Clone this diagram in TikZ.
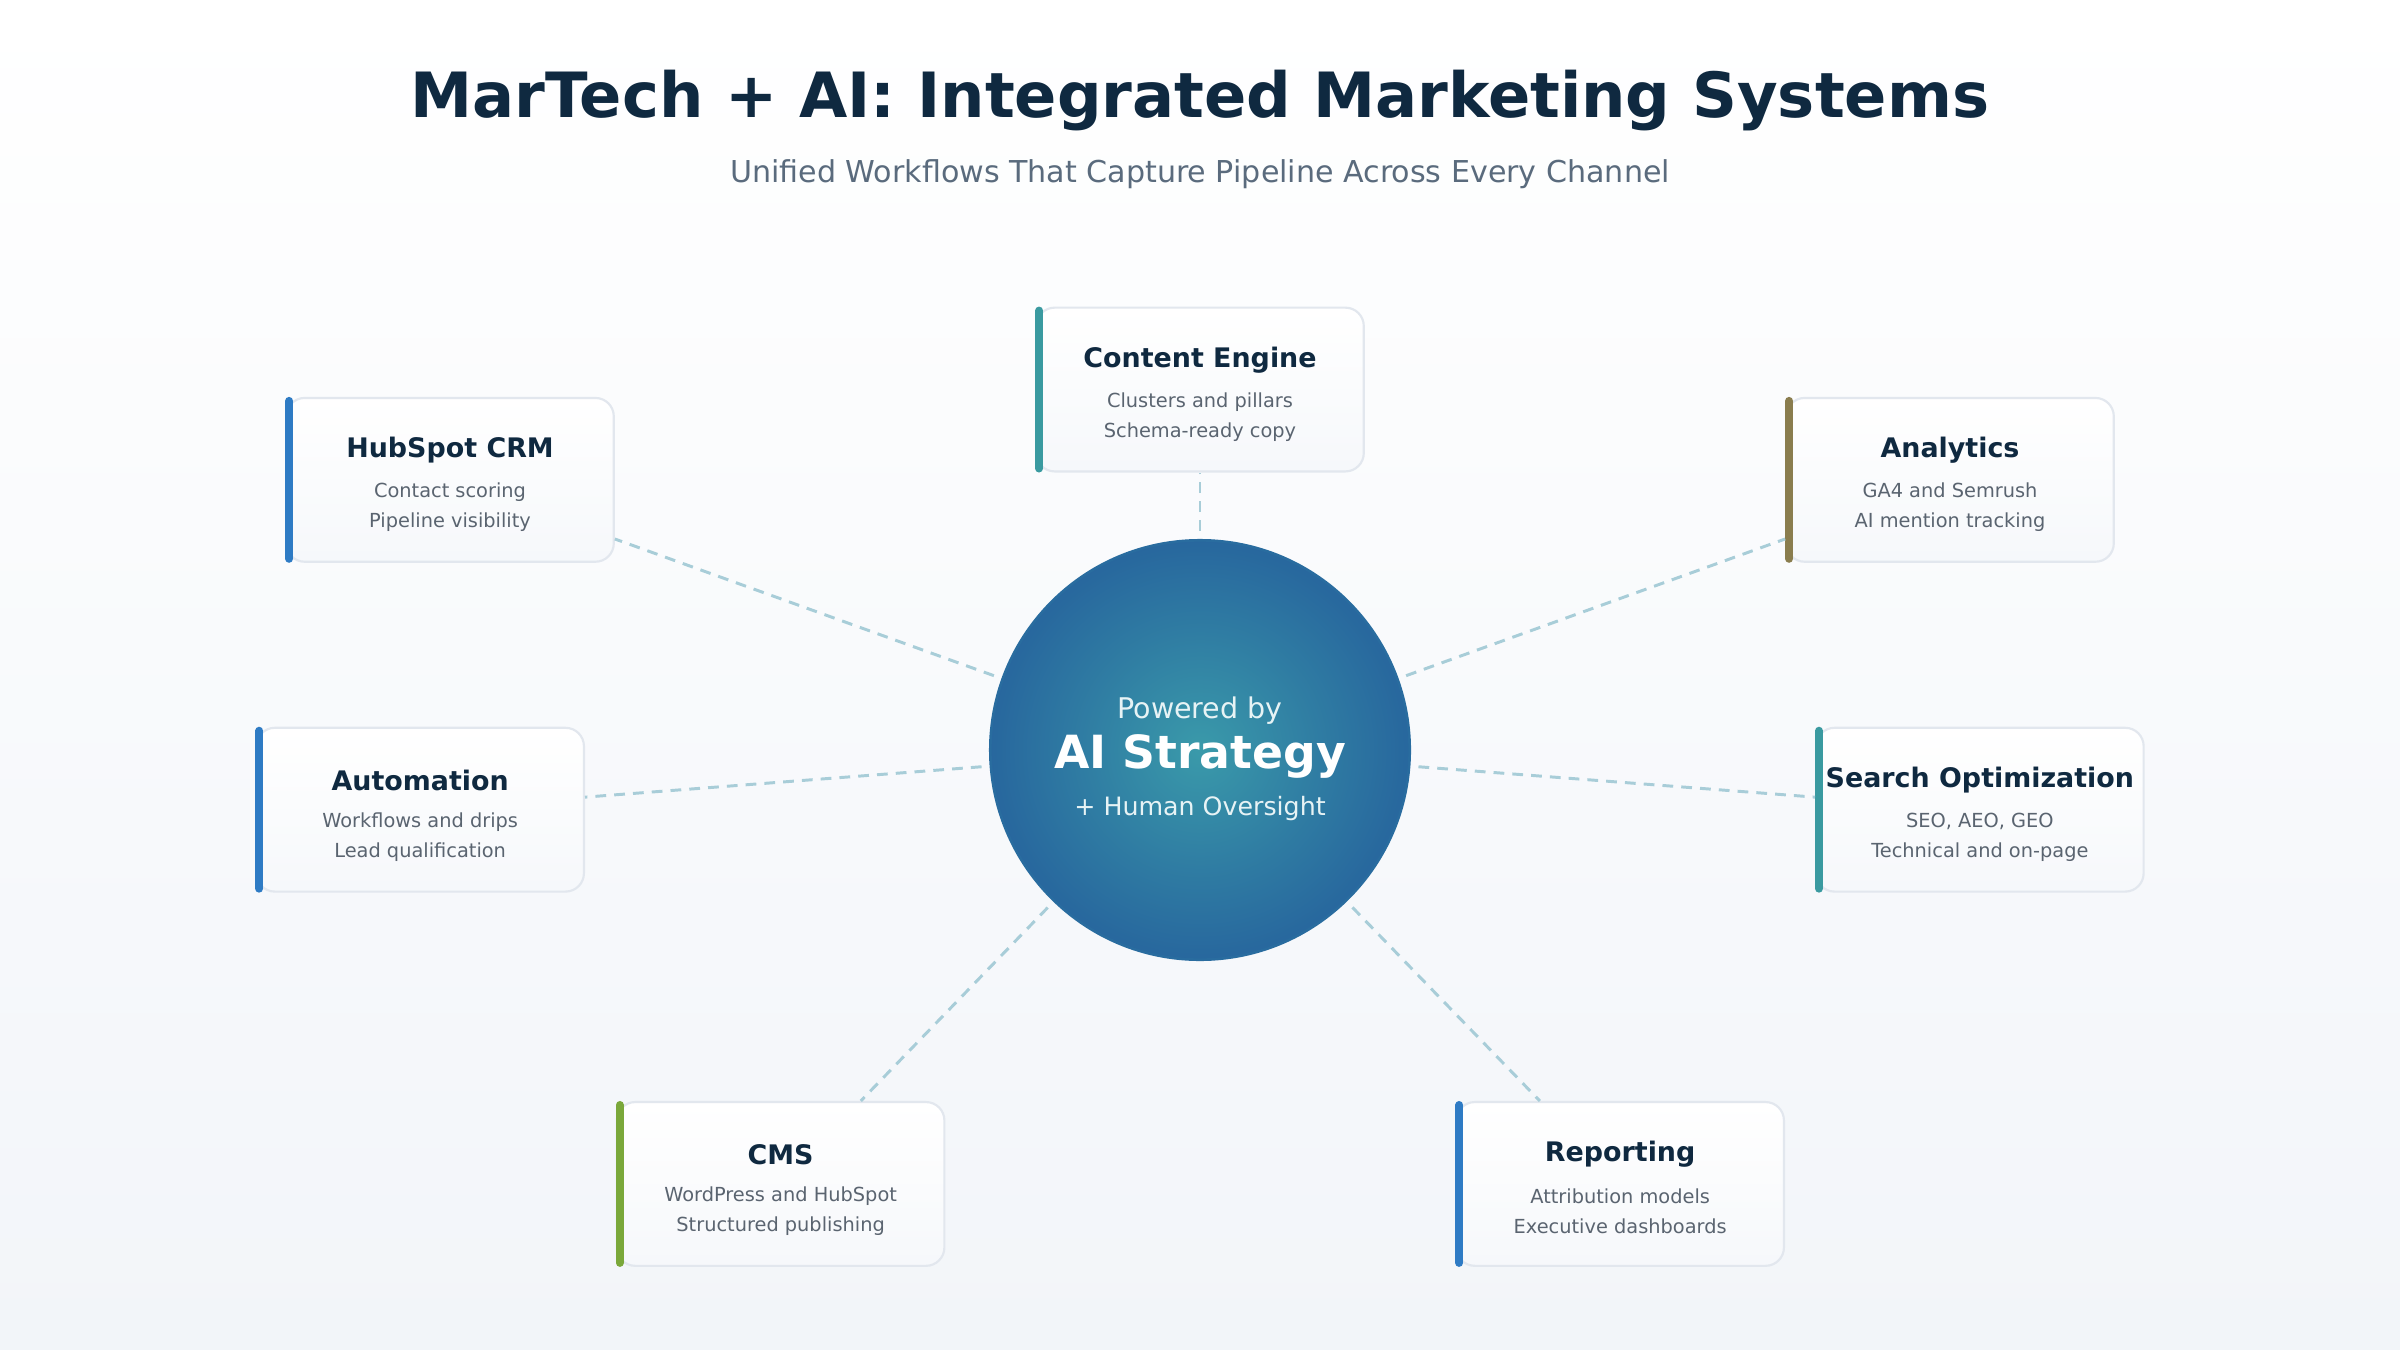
\documentclass[tikz,border=0pt]{standalone}
\usepackage{fontspec}
\setmainfont{DejaVu Sans}
\usetikzlibrary{shadings}
\definecolor{titlec}{HTML}{0F2940}
\definecolor{subc}{HTML}{5A6B7D}
\definecolor{bodyc}{HTML}{5A6470}
\definecolor{dashc}{HTML}{A8CDD8}
\definecolor{cardb}{HTML}{E2E7EE}
\definecolor{cblue}{HTML}{2E7BC4}
\definecolor{cteal}{HTML}{3A9AA0}
\definecolor{colive}{HTML}{8A7D4E}
\definecolor{cgreen}{HTML}{7AA83A}
\definecolor{cin}{HTML}{3A9AAA}
\definecolor{cout}{HTML}{22589A}
\definecolor{bgtop}{HTML}{FFFFFF}
\definecolor{bgbot}{HTML}{F2F5F9}
\pgfdeclareradialshading{hub}{\pgfpoint{0cm}{0cm}}{color(0cm)=(cin);color(0.5cm)=(cin!55!cout);color(1.15cm)=(cout)}
\tikzset{
 card/.style={rectangle,rounded corners=12pt*0.569,minimum width=214*0.02cm,minimum height=107*0.02cm,draw=cardb,line width=0.8pt,top color=white,bottom color=bgbot!70!white,inner sep=0pt},
 ctitle/.style={font=\fontsize{10}{12}\selectfont\bfseries,text=titlec},
 cbody/.style={font=\fontsize{7.2}{11.2}\selectfont,text=bodyc,align=center},
 conn/.style={draw=dashc,line width=1.1pt,dash pattern=on 4pt off 3pt}
}
\newcommand{\mycard}[7]{%
 \node[card] (#1) at (#2,#3) {};
 \draw[#4,line width=3pt,line cap=round] ([xshift=1.5pt,yshift=-1.5pt]#1.north west) -- ([xshift=1.5pt,yshift=1.5pt]#1.south west);
 \node[ctitle] (#1t) at ([yshift=-35*0.02cm]#1.north) {#5};
 \node[cbody] (#1b) at ([yshift=-72*0.02cm]#1.north) {#6\\#7};
}
\begin{document}
\begin{tikzpicture}[x=0.02cm,y=-0.02cm]
\shade[top color=bgtop,bottom color=bgbot] (0,0) rectangle (1568,882);
\useasboundingbox (0,0) rectangle (1568,882);
\node[font=\fontsize{23.2}{28}\selectfont\bfseries,text=titlec] (title) at (784,66) {MarTech + AI: Integrated Marketing Systems};
\node[font=\fontsize{11.2}{14}\selectfont,text=subc] (sub) at (784,114) {Unified Workflows That Capture Pipeline Across Every Channel};
\node[circle,minimum size=274*0.02cm,shading=hub,draw=cout!70!cin,line width=1pt] (hub) at (784,490) {};
\node[font=\fontsize{10.6}{13}\selectfont,text=white!88!cin] (p) at (784,464) {Powered by};
\node[font=\fontsize{17}{22}\selectfont\bfseries,text=white] (ai) at (784,494) {AI Strategy};
\node[font=\fontsize{9.4}{12}\selectfont,text=white!88!cin] (h) at (784,528) {+ Human Oversight};
\mycard{ce}{784}{254.5}{cteal}{Content Engine}{Clusters and pillars}{Schema-ready copy}
\mycard{hs}{294}{313.5}{cblue}{HubSpot CRM}{Contact scoring}{Pipeline visibility}
\mycard{an}{1274}{313.5}{colive}{Analytics}{GA4 and Semrush}{AI mention tracking}
\mycard{au}{274.5}{529}{cblue}{Automation}{Workflows and drips}{Lead qualification}
\mycard{so}{1293.5}{529}{cteal}{Search Optimization}{SEO, AEO, GEO}{Technical and on-page}
\mycard{cm}{510}{773.5}{cgreen}{CMS}{WordPress and HubSpot}{Structured publishing}
\mycard{rp}{1058.5}{773.5}{cblue}{Reporting}{Attribution models}{Executive dashboards}
\foreach \c in {ce,hs,an,au,so,cm,rp}{\draw[conn,shorten <=3pt] (hub) -- (\c);}
\end{tikzpicture}
\end{document}
